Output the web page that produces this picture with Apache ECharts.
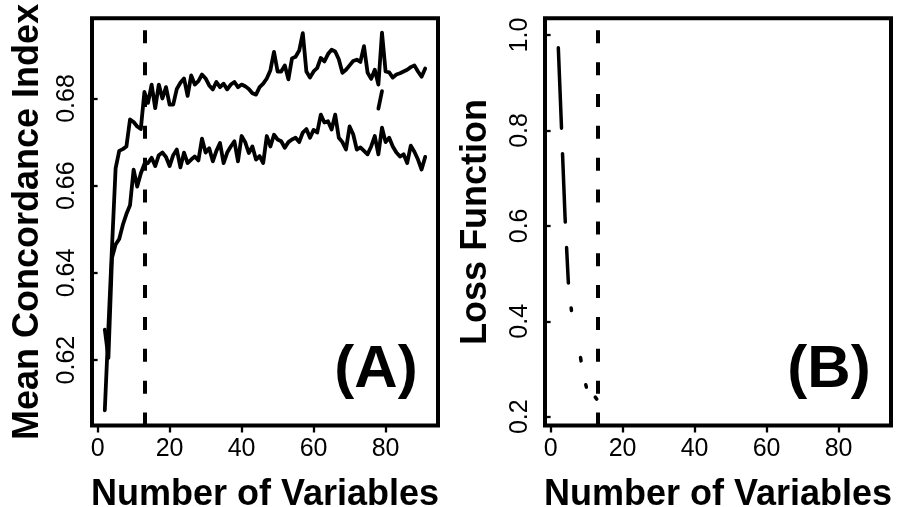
<!DOCTYPE html>
<html>
<head>
<meta charset="utf-8">
<script src="https://cdn.jsdelivr.net/npm/echarts@6/dist/echarts.min.js"></script>
<style>
html,body{margin:0;padding:0;background:#fff;}
#chart{width:898px;height:507px;}
</style>
</head>
<body>
<div id="chart"></div>
<script>
// ---- data ----
const numVars = [2,3,4,5,6,7,8,9,10,11,12,13,14,15,16,17,18,19,20,21,22,23,24,25,26,27,28,29,30,
  31,32,33,34,35,36,37,38,39,40,41,42,43,44,45,46,47,48,49,50,51,52,53,54,55,56,57,58,59,60,
  61,62,63,64,65,66,67,68,69,70,71,72,73,74,75,76,77,78,79,80,81,82,83,84,85,86,87,88,89,90,91];
const upperCI = [0.6085,0.6275,0.6460,0.6640,0.6680,0.6684,0.6690,0.6752,0.6746,0.6736,0.6730,0.6815,0.6790,0.6832,0.6778,0.6832,0.6800,0.6826,0.6786,0.6786,
  0.6822,0.6836,0.6846,0.6806,0.6853,0.6832,0.6840,0.6855,0.6846,0.6830,0.6821,0.6838,0.6826,0.6834,0.6821,0.6832,0.6838,0.6826,0.6832,0.6828,
  0.6822,0.6812,0.6809,0.6826,0.6834,0.6846,0.6865,0.6907,0.6862,0.6862,0.6876,0.6844,0.6892,0.6896,0.6910,0.6950,0.6862,0.6848,0.6862,0.6870,
  0.6893,0.6885,0.6902,0.6912,0.6908,0.6890,0.6859,0.6866,0.6876,0.6886,0.6889,0.6884,0.6920,0.6859,0.6845,0.6866,0.6832,0.6951,0.6862,0.6860,
  0.6848,0.6855,0.6858,0.6862,0.6866,0.6872,0.6876,0.6862,0.6850,0.6869];
const lowerCI = [0.6270,0.6205,0.6435,0.6465,0.6478,0.6510,0.6535,0.6555,0.6637,0.6598,0.6628,0.6650,0.6652,0.6664,0.6645,0.6670,0.6676,0.6666,0.6645,0.6670,
  0.6683,0.6642,0.6676,0.6652,0.6660,0.6667,0.6658,0.6708,0.6676,0.6686,0.6656,0.6680,0.6698,0.6652,0.6676,0.6690,0.6702,0.6656,0.6714,0.6700,
  0.6675,0.6690,0.6660,0.6668,0.6652,0.6714,0.6690,0.6717,0.6706,0.6702,0.6687,0.6700,0.6706,0.6710,0.6700,0.6722,0.6730,0.6710,0.6728,0.6722,
  0.6763,0.6745,0.6748,0.6729,0.6763,0.6710,0.6700,0.6683,0.6736,0.6718,0.6683,0.6688,0.6680,0.6672,0.6690,0.6714,0.6672,0.6733,0.6700,0.6710,
  0.6690,0.6676,0.6667,0.6672,0.6652,0.6692,0.6678,0.6660,0.6637,0.6666];
const fragX = [78, 79];
const fragCI = [0.6777, 0.6817];
const lossX = [2,3,4,5,6,7,8,9,10,11,12,13,14];
const lossVal = [1.0,0.81,0.62,0.47,0.41,0.37,0.34,0.29,0.26,0.25,0.245,0.235,0.215];
const cutoff = 13;
const xTicks = [0,20,40,60,80];
const yTicksA = [0.62,0.64,0.66,0.68];
const yTicksB = [0.2,0.4,0.6,0.8,1.0];

const pair = (xs, ys) => xs.map((x, i) => [x, ys[i]]);

const FONT = 'Liberation Sans, Arial, Helvetica, sans-serif';
const tickStyle = {show:true, inside:false, length:7, lineStyle:{color:'#000', width:2.3}};

function xAxisDef(gi){
  return {
    type:'value', gridIndex:gi, min:-1.56, max:94.56,
    axisLine:{show:false}, splitLine:{show:false},
    axisTick:Object.assign({customValues:xTicks}, tickStyle),
    axisLabel:{customValues:xTicks, color:'#000', fontSize:25, fontFamily:FONT, margin:11},
    name:'Number of Variables', nameLocation:'middle', nameGap:52, nameMoveOverlap:false,
    nameTextStyle:{color:'#000', fontSize:36, fontWeight:'bold', fontFamily:FONT}
  };
}
function yAxisDef(gi, min, max, ticks, name, gap, fmt){
  return {
    type:'value', gridIndex:gi, min:min, max:max,
    axisLine:{show:false}, splitLine:{show:false},
    axisTick:Object.assign({customValues:ticks}, tickStyle),
    axisLabel:{customValues:ticks, rotate:90, color:'#000', fontSize:25, fontFamily:FONT, margin:12,
      formatter:fmt},
    name:name, nameLocation:'middle', nameGap:gap, nameMoveOverlap:false,
    nameTextStyle:{color:'#000', fontSize:36, fontWeight:'bold', fontFamily:FONT}
  };
}

const lineSt = {color:'#000', width:3.8, join:'round', cap:'round'};
const cutLine = {
  silent:true, symbol:['none','none'], label:{show:false}, animation:false,
  lineStyle:{color:'#000', width:4, type:[13,18.85], cap:'butt'},
  data:[{xAxis:cutoff}]
};

const chart = echarts.init(document.getElementById('chart'), null, {renderer:'canvas'});
chart.setOption({
  animation:false,
  backgroundColor:'#fff',
  grid:[
    {left:92, top:18.3, width:346, height:407.2, show:true, borderColor:'#000', borderWidth:4, backgroundColor:'transparent', outerBoundsMode:'none', containLabel:false},
    {left:545, top:18.3, width:346, height:407.2, show:true, borderColor:'#000', borderWidth:4, backgroundColor:'transparent', outerBoundsMode:'none', containLabel:false}
  ],
  xAxis:[xAxisDef(0), xAxisDef(1)],
  yAxis:[
    yAxisDef(0, 0.605, 0.6984, yTicksA, 'Mean Concordance Index', 46, v => v.toFixed(2)),
    yAxisDef(1, 0.1816, 1.035, yTicksB, 'Loss Function', 51, v => v.toFixed(1))
  ],
  series:[
    {type:'line', xAxisIndex:0, yAxisIndex:0, data:pair(numVars, upperCI), symbol:'none', lineStyle:lineSt, markLine:cutLine},
    {type:'line', xAxisIndex:0, yAxisIndex:0, data:pair(numVars, lowerCI), symbol:'none', lineStyle:lineSt},
    {type:'line', xAxisIndex:0, yAxisIndex:0, data:pair(fragX, fragCI), symbol:'none', lineStyle:lineSt},
    {type:'line', xAxisIndex:1, yAxisIndex:1, data:pair(lossX, lossVal), symbol:'none',
      lineStyle:{color:'#000', width:3.5, join:'round', cap:'round',
        type:[80.5,25.5,68.5,25.5,35.5,25.2,2.5,47.8,3.5,24.3,2.5,13.7,2.5,1000],
        dashOffset:1344.75},
      markLine:cutLine}
  ],
  graphic:[
    {type:'text', x:376, y:370, style:{text:'(A)', fill:'#000', font:'bold 60px '+FONT, textAlign:'center', textVerticalAlign:'middle'}},
    {type:'text', x:829, y:370, style:{text:'(B)', fill:'#000', font:'bold 60px '+FONT, textAlign:'center', textVerticalAlign:'middle'}}
  ]
});
</script>
</body>
</html>
